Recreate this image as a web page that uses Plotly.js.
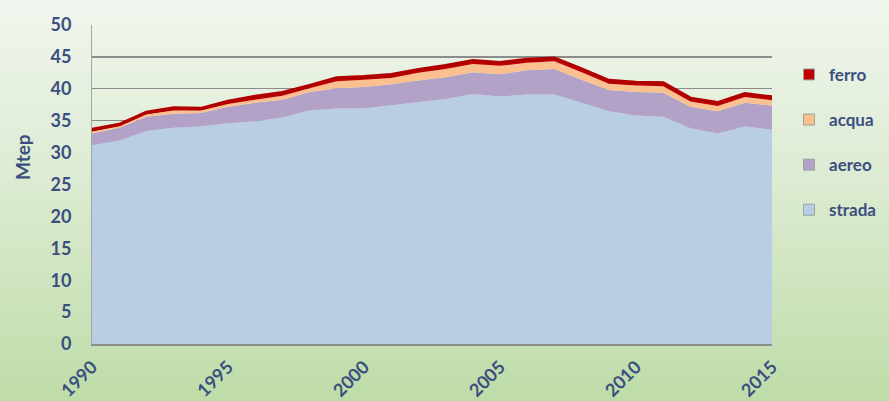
<!DOCTYPE html>
<html>
<head>
<meta charset="utf-8">
<script src="https://cdn.plot.ly/plotly-3.0.1.min.js"></script>
<style>
html, body { margin:0; padding:0; width:889px; height:401px; overflow:hidden;
  background: linear-gradient(to bottom, #F0F6EE 0%, #DCEBD2 45%, #BEDCA8 100%); }
#chart { width:889px; height:401px; }
</style>
</head>
<body>
<div id="chart"></div>
<script>
const years = [1990,1991,1992,1993,1994,1995,1996,1997,1998,1999,2000,2001,2002,2003,2004,2005,2006,2007,2008,2009,2010,2011,2012,2013,2014,2015];
const strada = [31.1,31.9,33.4,33.9,34.1,34.6,34.9,35.5,36.6,36.9,36.9,37.4,38.0,38.4,39.2,38.8,39.1,39.1,37.8,36.5,35.8,35.6,33.8,33.0,34.1,33.6];
const aereo  = [1.9,2.0,2.2,2.2,2.1,2.6,2.9,2.8,2.9,3.2,3.4,3.3,3.3,3.4,3.4,3.5,3.8,4.0,3.6,3.3,3.7,3.8,3.4,3.5,3.7,3.8];
const acqua  = [0.3,0.3,0.4,0.5,0.4,0.4,0.5,0.6,0.6,1.1,1.1,1.0,1.2,1.3,1.3,1.3,1.2,1.2,1.2,1.0,1.0,1.0,0.8,0.8,0.9,0.8];
const ferro  = [0.3,0.2,0.3,0.4,0.3,0.4,0.5,0.5,0.4,0.5,0.5,0.5,0.5,0.5,0.5,0.5,0.5,0.5,0.5,0.5,0.5,0.5,0.5,0.5,0.5,0.5];
const seriesNames = ['strada','aereo','acqua','ferro'];
const seriesColors = ['#B9CDE5','#B3A2C7','#FAC090','#C00000'];
const yTicks = [0,5,10,15,20,25,30,35,40,45,50];
const xTicks = [1990,1995,2000,2005,2010,2015];

const seriesData = [strada, aereo, acqua, ferro];
const traces = [];
seriesData.forEach((vals, i) => {
  traces.push({
    x: years, y: vals, type: 'scatter', mode: 'lines',
    stackgroup: 'one', name: seriesNames[i],
    fillcolor: seriesColors[i],
    line: i === 3 ? {color:'#B00000', width:3.5} : {width:0, color: seriesColors[i]},
    showlegend: false, hoverinfo: 'skip'
  });
});
// legend swatches
for (let i = 3; i >= 0; i--) {
  traces.push({
    x: [null], y: [null], type: 'scatter', mode: 'markers',
    name: seriesNames[i], legendgroup: 'g' + i,
    marker: {symbol: 'square', size: 11, color: seriesColors[i], line: {color: '#9AA59A', width: 1}},
    showlegend: true
  });
}

const tickFont = {family: 'Lato, "Open Sans", sans-serif', size: 18, color: '#3B4E80', weight: 'bold'};

const layout = {
  width: 889, height: 401,
  margin: {l: 92, r: 117, t: 25, b: 57, autoexpand: false},
  paper_bgcolor: 'rgba(0,0,0,0)',
  plot_bgcolor: 'rgba(0,0,0,0)',
  showlegend: true,
  legend: {
    x: 1.025, xanchor: 'left', y: 0.90, yanchor: 'top',
    traceorder: 'grouped', tracegroupgap: 20,
    itemwidth: 30,
    font: {family: 'Lato, "Open Sans", sans-serif', size: 17, color: '#3B4E80', weight: 'bold'},
    bgcolor: 'rgba(0,0,0,0)'
  },
  xaxis: {
    range: [1990, 2015], tickvals: xTicks, ticktext: xTicks.map(String),
    tickangle: -45, tickfont: tickFont, showgrid: false, zeroline: false,
    showline: true, linecolor: '#8A8F8A', linewidth: 1.5, ticks: '',
    ticklabelstandoff: 4, fixedrange: true
  },
  yaxis: {
    range: [0, 50], tickvals: yTicks, ticktext: yTicks.map(String),
    tickfont: tickFont, showgrid: true, gridcolor: '#8C8C8C', gridwidth: 1.2,
    zeroline: false, showline: true, linecolor: '#A0A8A0', linewidth: 1, ticks: '',
    ticklabelstandoff: 16, fixedrange: true
  },
  annotations: [{
    text: 'Mtep', textangle: -90, xref: 'paper', yref: 'paper',
    x: -0.102, y: 0.585, xanchor: 'center', yanchor: 'middle', showarrow: false,
    font: {family: 'Lato, "Open Sans", sans-serif', size: 19, color: '#3B4E80', weight: 'bold'}
  }]
};

Plotly.newPlot('chart', traces, layout, {displayModeBar: false, staticPlot: true});
</script>
</body>
</html>
